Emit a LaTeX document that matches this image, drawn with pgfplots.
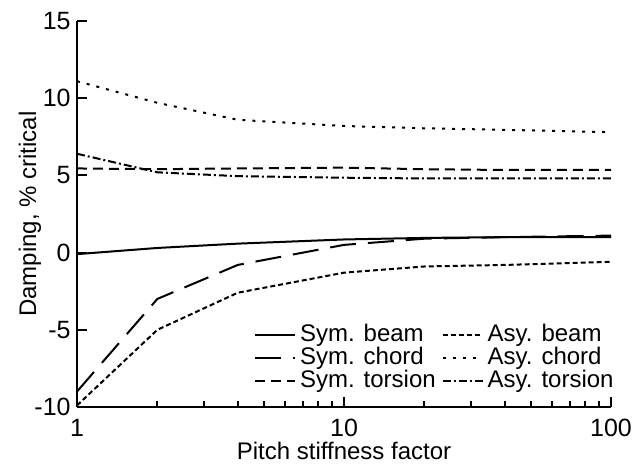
\documentclass[border=0pt]{standalone}
\usepackage{fontspec}
\setmainfont{Liberation Sans}
\usepackage{pgfplots}
\pgfplotsset{compat=1.18}
\begin{document}
\fontsize{12}{14}\selectfont
\begin{tikzpicture}
\begin{axis}[
    name=ax,
    scale only axis,
    width=267pt, height=193pt,
    xmode=log,
    xmin=1, xmax=100,
    ymin=-10, ymax=15,
    ytick={-10,-5,0,5,10,15},
    xtick={1,10,100},
    xticklabels={1,10,100},
    minor x tick num=8,
    axis x line*=bottom,
    axis y line*=left,
    axis line style={line width=1.3pt},
    tick style={line width=1pt, black},
    major tick length=5pt,
    minor tick length=3pt,
    tick align=inside,
    /pgf/number format/assume math mode=true,
    ticklabel style={font=\fontsize{12.5}{14}\selectfont},
    xticklabel style={yshift=-2pt},
    yticklabel style={xshift=1pt},
    xlabel={Pitch stiffness factor},
    ylabel={Damping, \% critical},
    xlabel style={yshift=5.5pt},
    ylabel style={yshift=-11.5pt},
    legend columns=2,
    legend cell align=left,
    legend style={draw=none, fill=none, at={(1.013,0.03)}, anchor=south east,
        font=\fontsize{12}{12}\selectfont, row sep=-3pt, inner sep=0pt,
        /tikz/every even column/.append style={column sep=1pt}},
    legend image code/.code={\draw[#1] plot coordinates {(0pt,0pt) (20pt,0pt)};},
    every axis plot/.append style={line width=1pt, black},
]
% Sym. beam
\addplot[solid] coordinates {(1,-0.1) (2,0.3) (4,0.58) (10,0.85) (20,0.95) (40,1.0) (100,1.0)};
\addlegendentry{Sym. beam}
% Asy. beam
\addplot[dash pattern=on 2.5pt off 1.5pt] coordinates {(1,-9.9) (2,-5.0) (4,-2.6) (10,-1.3) (20,-0.9) (40,-0.8) (100,-0.6)};
\addlegendentry{Asy. beam}
% Sym. chord
\addplot[dash pattern=on 13pt off 6pt] coordinates {(1,-9.0) (2,-3.0) (4,-0.8) (10,0.5) (20,0.9) (40,1.0) (100,1.1)};
\addlegendentry{Sym. chord}
% Asy. chord
\addplot[dash pattern=on 1.5pt off 3.5pt] coordinates {(1,11.1) (2,9.7) (4,8.6) (10,8.2) (20,8.05) (40,7.95) (100,7.8)};
\addlegendentry{Asy. chord}
% Sym. torsion
\addplot[dash pattern=on 5pt off 3pt] coordinates {(1,5.45) (2,5.4) (4,5.45) (10,5.5) (20,5.4) (40,5.35) (100,5.35)};
\addlegendentry{Sym. torsion}
% Asy. torsion
\addplot[dash pattern=on 4pt off 1.5pt on 1pt off 1.5pt] coordinates {(1,6.4) (2,5.2) (4,4.95) (10,4.85) (20,4.8) (40,4.8) (100,4.8)};
\addlegendentry{Asy. torsion}
\end{axis}
\pgfresetboundingbox
\useasboundingbox ([xshift=-38.5pt,yshift=-30.5pt]ax.south west) rectangle ([xshift=13pt,yshift=10.5pt]ax.north east);
\end{tikzpicture}
\end{document}
